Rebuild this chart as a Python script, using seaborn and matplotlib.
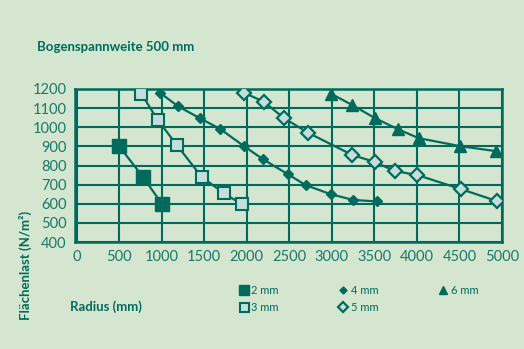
import matplotlib
matplotlib.use("Agg")
import matplotlib.pyplot as plt
import seaborn as sns
from matplotlib.lines import Line2D

# ---- data ----
r_2mm = [500, 780, 1000]
q_2mm = [900, 740, 600]
r_3mm = [760, 950, 1180, 1470, 1730, 1940]
q_3mm = [1175, 1040, 905, 740, 655, 598]
r_4mm = [980, 1190, 1445, 1690, 1970, 2190, 2480, 2690, 2985, 3250, 3530]
q_4mm = [1180, 1110, 1048, 990, 900, 833, 755, 698, 650, 620, 612]
r_5mm = [1970, 2205, 2435, 2725, 3240, 3505, 3740, 4005, 4520, 4940]
q_5mm = [1180, 1132, 1048, 970, 855, 818, 771, 750, 676, 614]
r_6mm = [2995, 3240, 3505, 3775, 4020, 4510, 4930]
q_6mm = [1174, 1116, 1048, 990, 943, 901, 875]
labels = ["2 mm", "3 mm", "4 mm", "5 mm", "6 mm"]
x_ticks = [0, 500, 1000, 1500, 2000, 2500, 3000, 3500, 4000, 4500, 5000]
y_ticks = [400, 500, 600, 700, 800, 900, 1000, 1100, 1200]

TEAL = "#006b5c"
TICK = "#1a7868"
BG = "#d4e6cf"
LIGHT = "#c6dedb"

sns.set_theme(style="white")
plt.rcParams["font.family"] = ["Lato", "DejaVu Sans"]

fig = plt.figure(figsize=(5.24, 3.49), dpi=100, facecolor=BG)
ax = fig.add_axes([75/524, 1-242/349, (502-75)/524, (242-89)/349])
ax.set_facecolor(BG)

styles = [
    dict(marker="s", ms=9.5, mfc=TEAL, mec=TEAL, mew=1),
    dict(marker="s", ms=9, mfc=LIGHT, mec=TEAL, mew=1.5),
    dict(marker="D", ms=5, mfc=TEAL, mec=TEAL, mew=1),
    dict(marker="D", ms=7, mfc=LIGHT, mec=TEAL, mew=1.6),
    dict(marker="^", ms=8.5, mfc=TEAL, mec=TEAL, mew=1),
]
series = [(r_2mm, q_2mm), (r_3mm, q_3mm), (r_4mm, q_4mm), (r_5mm, q_5mm), (r_6mm, q_6mm)]
for (xs, ys), st in zip(series, styles):
    sns.lineplot(x=xs, y=ys, ax=ax, color=TEAL, lw=1.6, markeredgecolor=st["mec"],
                 marker=st["marker"], markersize=st["ms"], markerfacecolor=st["mfc"],
                 markeredgewidth=st["mew"], zorder=5)

ax.set_xlim(-20, 5000)
ax.set_ylim(400, 1200)
ax.set_xticks(x_ticks)
ax.set_yticks(y_ticks)
ax.grid(True, color=TEAL, lw=1.5)
ax.set_axisbelow(True)
for s in ax.spines.values():
    s.set_color(TEAL)
    s.set_linewidth(1.8)
ax.tick_params(length=0, labelsize=10.5, colors=TICK, pad=6)
ax.set_xlabel("")
ax.set_ylabel("")

fig.text(37/524, 1-47/349, "Bogenspannweite 500 mm", fontsize=9.5, fontweight="bold",
         color=TEAL, va="center", ha="left")
fig.text(70/524, 1-307/349, "Radius (mm)", fontsize=9.5, fontweight="bold",
         color=TEAL, va="center", ha="left")
fig.text(25/524, 1-265/349, "Flächenlast (N/m²)", fontsize=9.5, fontweight="bold",
         color=TEAL, va="center", ha="center", rotation=90)

handles = []
for st in styles:
    handles.append(Line2D([], [], ls="none", marker=st["marker"], ms=st["ms"] * 0.72,
                          mfc=st["mfc"], mec=st["mec"], mew=st["mew"]))
leg = fig.legend(handles, labels, ncol=3, loc="upper left",
                 bbox_to_anchor=(228/524, 1-275/349), frameon=False,
                 fontsize=8, labelcolor=TEAL, handletextpad=0.2,
                 columnspacing=5.3, labelspacing=0.55, handlelength=1.0)

fig.savefig("out.png", dpi=100, facecolor=BG)
